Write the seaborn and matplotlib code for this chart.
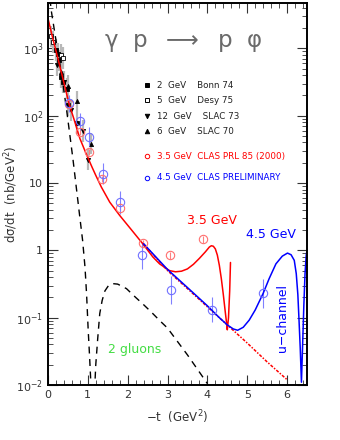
import numpy as np
import pandas as pd
import matplotlib
matplotlib.use("Agg")
import matplotlib.pyplot as plt
import matplotlib.ticker as mticker
import seaborn as sns

# --- data ---
# black points (older experiments)
bonn_t = [0.20, 0.26, 0.28, 0.34, 0.37, 0.47, 0.51, 0.74]
bonn_y = [940, 830, 660, 370, 315, 250, 142, 77]
desy_t = [0.07, 0.13, 0.34, 0.38]
desy_y = [1500, 1230, 790, 710]
slac73_t = [0.23, 0.41, 0.59, 0.87, 1.01]
slac73_y = [560, 315, 120, 59, 22]
slac70_t = [0.32, 0.51, 0.72, 1.09]
slac70_y = [445, 277, 163, 38]

# CLAS 3.5 GeV (red) and 4.5 GeV (blue)
clas35_t = [0.53, 0.80, 1.03, 1.36, 1.80, 2.38, 3.07, 3.88]
clas35_y = [150, 57, 29, 11.5, 4.2, 1.28, 0.84, 1.45]
clas45_t = [0.53, 0.80, 1.03, 1.37, 1.80, 2.37, 3.09, 4.11, 5.40]
clas45_y = [155, 83, 49, 13.8, 5.2, 0.84, 0.26, 0.13, 0.23]
clas45_lo = [115, 62, 35, 9.8, 3.5, 0.53, 0.16, 0.085, 0.14]
clas45_hi = [205, 110, 68, 19.5, 7.5, 1.35, 0.42, 0.20, 0.37]

# curves
red_t = [0.0, 0.10, 0.25, 0.40, 0.53, 0.65, 0.80, 0.95, 1.11, 1.20, 1.34, 1.55,
         1.80, 2.10, 2.38, 2.63, 2.80, 3.05, 3.20, 3.35, 3.50, 3.65, 3.80, 3.95,
         4.05, 4.10, 4.15, 4.20, 4.25, 4.30, 4.35, 4.40, 4.45, 4.48, 4.50, 4.53,
         4.56, 4.58]
red_y = [2800, 1580, 710, 310, 150, 90, 46, 28, 17, 13, 8.7, 5.2,
         3.3, 2.0, 1.25, 0.80, 0.63, 0.50, 0.48, 0.49, 0.53, 0.62, 0.76, 0.95,
         1.12, 1.17, 1.15, 1.05, 0.85, 0.60, 0.38, 0.22, 0.12, 0.085, 0.066, 0.10,
         0.25, 0.66]
dot_t = [2.40, 3.00, 3.50, 4.00, 4.50, 5.00, 5.50, 6.00]
dot_y = [1.25, 0.50, 0.27, 0.145, 0.078, 0.042, 0.022, 0.012]
blue_t = [2.40, 3.00, 3.50, 4.00, 4.30, 4.50, 4.65, 4.76, 4.90, 5.05, 5.20,
          5.40, 5.55, 5.72, 5.88, 6.01, 6.10, 6.18, 6.23, 6.27, 6.30, 6.33,
          6.36, 6.39, 6.42, 6.45, 6.48, 6.50]
blue_y = [1.25, 0.52, 0.28, 0.15, 0.10, 0.078, 0.068, 0.065, 0.072, 0.092, 0.13,
          0.23, 0.38, 0.63, 0.82, 0.91, 0.86, 0.71, 0.45, 0.22, 0.09, 0.035,
          0.011, 0.04, 0.15, 0.45, 0.85, 1.0]
glu_t = [0.05, 0.075, 0.175, 0.34, 0.47, 0.63, 0.80, 0.87, 0.93, 0.97, 1.01,
         1.04, 1.07, 1.10, 1.14, 1.18, 1.20, 1.25, 1.30, 1.36, 1.43, 1.52, 1.63,
         1.75, 1.97, 2.20, 2.38, 2.60, 2.80, 3.00, 3.50, 4.00]
glu_y = [6000, 3900, 1650, 420, 120, 22, 3.1, 1.4, 0.56, 0.22, 0.065,
         0.03, 0.013, 0.001, 0.004, 0.011, 0.02, 0.05, 0.115, 0.18, 0.25, 0.30, 0.32,
         0.315, 0.27, 0.20, 0.16, 0.12, 0.091, 0.07, 0.028, 0.0105]

sns.set_style("ticks")
plt.rcParams['font.family'] = ['DejaVu Sans']
plt.rcParams['mathtext.fontset'] = 'dejavusans'

fig = plt.figure(figsize=(3.4, 4.4), dpi=100)
ax = fig.add_axes([0.141, 0.125, 0.762, 0.868])

# black data with gray error bars
black_sets = [(bonn_t, bonn_y, 's', 'black'), (desy_t, desy_y, 's', 'white'),
              (slac73_t, slac73_y, 'v', 'black'), (slac70_t, slac70_y, '^', 'black')]
for t, y, m, fc in black_sets:
    y = np.array(y)
    ax.errorbar(t, y, yerr=[y * 0.3, y * 0.45], fmt='none', ecolor='#b8b8b8', elinewidth=1.6)
for t, y, m, fc in black_sets:
    ax.plot(t, y, m, ms=3, mfc=fc, mec='black', mew=0.6, ls='none')

# CLAS points
c35 = np.array(clas35_y)
ax.errorbar(clas35_t, c35, yerr=[c35 * 0.1, c35 * 0.12], fmt='none', ecolor='#ff8080', elinewidth=0.8)
ax.errorbar(clas45_t, clas45_y,
            yerr=[np.array(clas45_y) - np.array(clas45_lo), np.array(clas45_hi) - np.array(clas45_y)],
            fmt='none', ecolor='#8080ff', elinewidth=0.8)

# curves
sns.lineplot(x=glu_t, y=glu_y, ax=ax, color='black', lw=1.0, ls=(0, (5, 4)), sort=False, estimator=None)
sns.lineplot(x=dot_t, y=dot_y, ax=ax, color='red', lw=1.1, ls=(0, (2, 1, 1, 1)), sort=False, estimator=None)
sns.lineplot(x=red_t, y=red_y, ax=ax, color='red', lw=1.1, sort=False, estimator=None)
sns.lineplot(x=blue_t, y=blue_y, ax=ax, color='blue', lw=1.1, sort=False, estimator=None)

ax.plot(clas35_t, clas35_y, 'o', ms=6, mfc='none', mec='#ff7070', mew=0.8)
ax.plot(clas45_t, clas45_y, 'o', ms=6, mfc='none', mec='#7070ff', mew=0.8)

ax.set_yscale('log')
ax.set_xlim(0, 6.5)
ax.set_ylim(1e-2, 4700)

def fmt(v, pos):
    e = int(round(np.log10(v)))
    if e == 0:
        return '1'
    if e == 1:
        return '10'
    return r'$10^{%d}$' % e

ax.yaxis.set_major_locator(mticker.LogLocator(base=10, numticks=10))
ax.yaxis.set_minor_locator(mticker.LogLocator(base=10, subs=np.arange(2, 10), numticks=20))
ax.yaxis.set_minor_formatter(mticker.NullFormatter())
ax.yaxis.set_major_formatter(mticker.FuncFormatter(fmt))
ax.xaxis.set_major_locator(mticker.MultipleLocator(1))
ax.xaxis.set_minor_locator(mticker.MultipleLocator(0.2))
ax.tick_params(which='both', direction='in', top=True, right=True, labelsize=8, colors='#333333')
ax.tick_params(which='major', length=7, width=0.8)
ax.tick_params(which='minor', length=3.5, width=0.6)
for s in ax.spines.values():
    s.set_linewidth(1.4)
    s.set_color('black')

ax.set_xlabel('−t  (GeV$^2$)', fontsize=8.5, color='#333333', labelpad=6)
ax.set_ylabel('dσ/dt  (nb/GeV$^2$)', fontsize=8.5, color='#333333')
ax.yaxis.set_label_coords(-0.108, 0.5)

# title inside frame
ax.text(0.521, 0.898, 'γ  p  $\\longrightarrow$  p  φ', transform=ax.transAxes,
        ha='center', va='center', fontsize=16.5, color='#6a6a6a')

# legend, drawn by hand
rows = [(0.785, 's', 'black', 'black', '2  GeV    Bonn 74'),
        (0.746, 's', 'white', 'black', '5  GeV    Desy 75'),
        (0.704, 'v', 'black', 'black', '12  GeV    SLAC 73'),
        (0.665, '^', 'black', 'black', '6  GeV    SLAC 70'),
        (0.599, 'o', 'none', 'red', '3.5 GeV  CLAS PRL 85 (2000)'),
        (0.542, 'o', 'none', 'blue', '4.5 GeV  CLAS PRELIMINARY')]
for y, m, fc, c, lab in rows:
    ax.plot([0.382], [y], m, ms=3.2, mfc=fc, mec=c, mew=0.7, transform=ax.transAxes)
    ax.text(0.42, y, lab, transform=ax.transAxes, ha='left', va='center', fontsize=6.3,
            color='#222222' if c == 'black' else c)

ax.text(0.633, 0.432, '3.5 GeV', transform=ax.transAxes, ha='center', va='center', fontsize=9, color='red')
ax.text(0.861, 0.393, '4.5 GeV', transform=ax.transAxes, ha='center', va='center', fontsize=9, color='blue')
ax.text(0.907, 0.175, 'u−channel', transform=ax.transAxes, ha='center', va='center', fontsize=9,
        color='blue', rotation=90)
ax.text(0.336, 0.094, '2 gluons', transform=ax.transAxes, ha='center', va='center', fontsize=9,
        color='#44dd44')

fig.savefig('out.png', dpi=100)
